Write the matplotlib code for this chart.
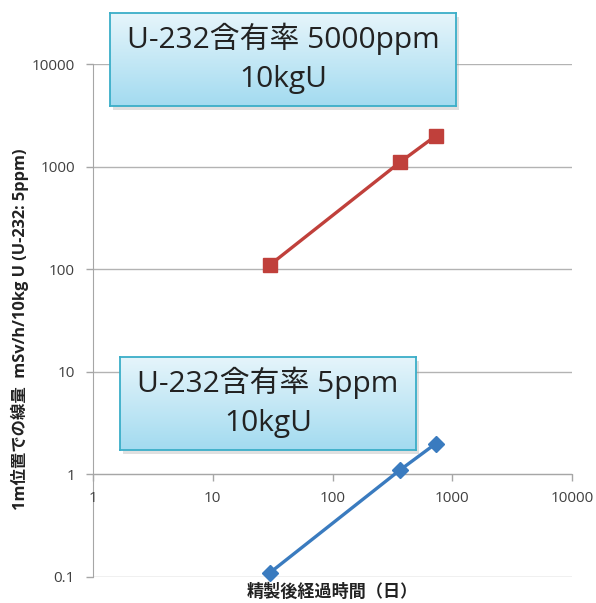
import numpy as np
import matplotlib
matplotlib.use("Agg")
import matplotlib.pyplot as plt
from matplotlib.patches import Rectangle

plt.rcParams['font.family'] = ['Open Sans', 'Noto Sans CJK JP', 'DejaVu Sans']

# data (days since purification, dose at 1 m)
days = [30, 365, 730]
dose_5000ppm = [110, 1100, 2000]
dose_5ppm = [0.11, 1.1, 2.0]
x_ticks = [1, 10, 100, 1000, 10000]
x_tick_labels = ['1', '10', '100', '1000', '10000']
y_ticks = [0.1, 1, 10, 100, 1000, 10000]
y_tick_labels = ['0.1', '1', '10', '100', '1000', '10000']

W, H = 596, 603
fig = plt.figure(figsize=(W / 100, H / 100), dpi=100)

def fx(px):
    return px / W

def fy(px):
    return 1 - px / H

ax = fig.add_axes([fx(93), fy(577), fx(572) - fx(93), fy(64) - fy(577)])
ax.set_xscale('log')
ax.set_yscale('log')
ax.set_xlim(1, 10000)
ax.set_ylim(0.1, 10000)

ax.plot(days, dose_5000ppm, color='#c0403b', lw=2.4, marker='s', ms=10,
        zorder=3, clip_on=False)
ax.plot(days, dose_5ppm, color='#3a7bbf', lw=2.4, marker='D', ms=8,
        zorder=3, clip_on=False)

ax.set_xticks(x_ticks)
ax.set_xticklabels(x_tick_labels)
ax.set_yticks(y_ticks)
ax.set_yticklabels(y_tick_labels)
ax.minorticks_off()
ax.tick_params(axis='both', colors='#a6a6a6', labelcolor='#404040',
               labelsize=11, length=5, width=1)
ax.tick_params(axis='x', pad=7)
ax.tick_params(axis='y', pad=8)

ax.grid(axis='y', color='#b3b3b3', lw=1)
ax.set_axisbelow(True)
ax.xaxis.set_zorder(2.6)  # keep the "1" label above the y spine
for s in ['top', 'right']:
    ax.spines[s].set_visible(False)
ax.spines['left'].set_color('#a6a6a6')
ax.spines['bottom'].set_color('#a6a6a6')
ax.spines['bottom'].set_position(('data', 1))

fig.text(fx(20), fy(329), '1m位置での線量  mSv/h/10kg U (U-232: 5ppm)',
         rotation=90, ha='center', va='center', fontsize=11.8,
         fontweight='bold', color='#222222')
fig.text(fx(332), fy(592), '精製後経過時間（日）', ha='center', va='center',
         fontsize=12.3, fontweight='bold', color='#222222')

def label_box(x0, y0, x1, y1, text):
    # drop shadow
    fig.patches.append(Rectangle((fx(x0 + 3), fy(y1 + 4)), fx(x1 - x0),
                                 fy(y0) - fy(y1), transform=fig.transFigure,
                                 facecolor='#999999', alpha=0.3,
                                 edgecolor='none', zorder=4))
    bx = fig.add_axes([fx(x0), fy(y1), fx(x1 - x0), fy(y0) - fy(y1)], zorder=5)
    top = np.array([0xe6, 0xf5, 0xfb]) / 255
    bot = np.array([0xa3, 0xdb, 0xf0]) / 255
    t = np.linspace(0, 1, 64)[:, None]
    grad = (top * (1 - t) + bot * t)[:, None, :]
    bx.imshow(grad, aspect='auto', extent=[0, 1, 0, 1])
    bx.set_xlim(0, 1)
    bx.set_ylim(0, 1)
    bx.set_xticks([])
    bx.set_yticks([])
    for s in bx.spines.values():
        s.set_color('#3aaec8')
        s.set_linewidth(1.3)
    bx.text(0.5, 0.51, text, ha='center', va='center', fontsize=21.5,
            color='#222222', linespacing=1.45, transform=bx.transAxes)

label_box(110, 13, 456, 106, 'U-232含有率 5000ppm\n10kgU')
label_box(120, 357, 416, 450, 'U-232含有率 5ppm\n10kgU')

fig.savefig('out.png', dpi=100)
